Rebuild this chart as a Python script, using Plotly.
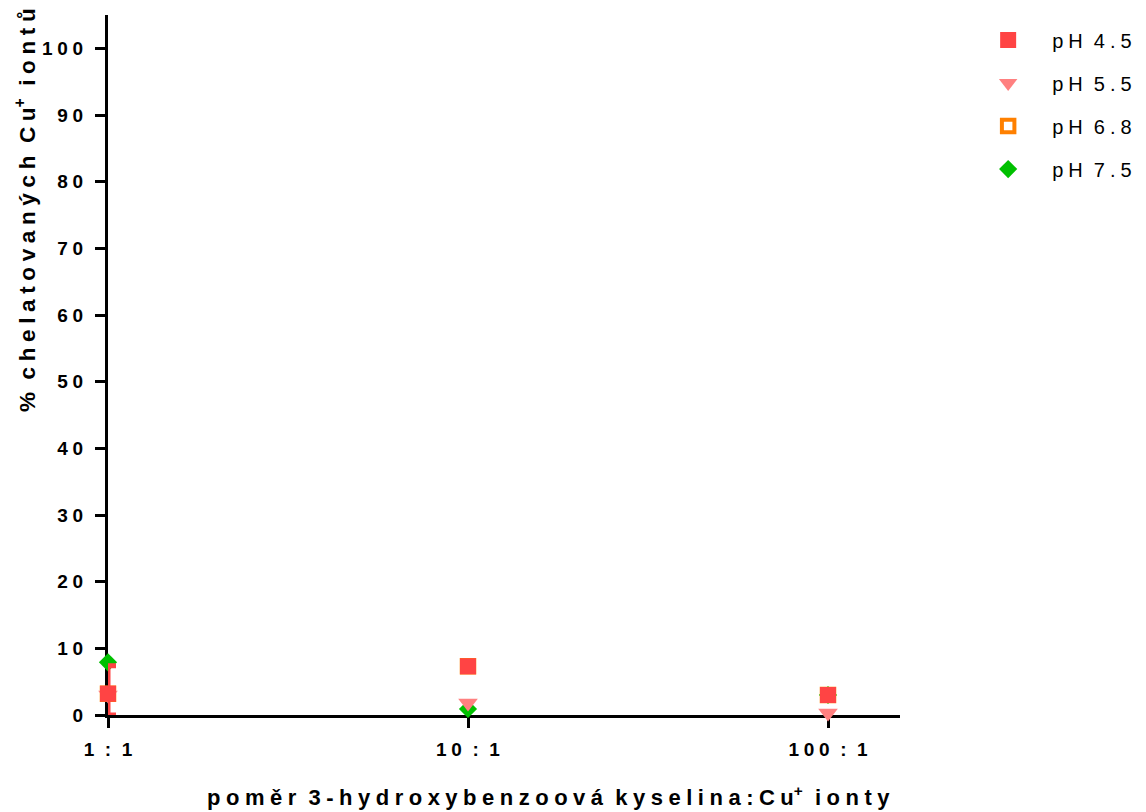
import plotly.graph_objects as go

categories = ["1 : 1", "10 : 1", "100 : 1"]
x_pos = [0, 1, 2]
ph45 = [3.2, 7.3, 3.0]
ph45_err_plus = [4.2, 0, 0]
ph45_err_minus = [3.2, 0, 0]
ph55 = [3.0, 1.8, 0.3]
ph68 = [3.2, 7.3, 3.0]
ph75 = [7.9, 0.9, 3.0]
y_ticks = list(range(0, 101, 10))
series_names = ["pH 4.5", "pH 5.5", "pH 6.8", "pH 7.5"]

LS = "\u2005"          # letter spacing
WS = "  "              # word gap


def sp(s):
    return WS.join(LS.join(w) for w in s.split(" "))


FONT = "Liberation Sans, Arial, sans-serif"

fig = go.Figure()

fig.add_trace(go.Scatter(
    x=x_pos, y=ph75, mode="markers", name=sp(series_names[3]),
    legendgroup="d", legendrank=4, cliponaxis=False,
    marker=dict(symbol="diamond", size=14, color="#00C000", line=dict(width=0)),
))
fig.add_trace(go.Scatter(
    x=x_pos, y=ph68, mode="markers", name=sp(series_names[2]),
    legendgroup="c", legendrank=3, cliponaxis=False,
    marker=dict(symbol="square-open", size=12.5, color="#FF8000", line=dict(width=4, color="#FF8000")),
))
fig.add_trace(go.Scatter(
    x=x_pos, y=ph55, mode="markers", name=sp(series_names[1]),
    legendgroup="b", legendrank=2, cliponaxis=False,
    marker=dict(symbol="triangle-down", size=17, color="#FF8080", line=dict(width=0)),
))
fig.add_trace(go.Scatter(
    x=x_pos, y=ph45, mode="markers", name=sp(series_names[0]),
    legendgroup="a", legendrank=1, cliponaxis=False,
    marker=dict(symbol="square", size=16, color="#FF4444", line=dict(width=0)),
    error_y=dict(type="data", array=ph45_err_plus, arrayminus=ph45_err_minus,
                 symmetric=False, color="#FF4444", thickness=5, width=8),
))

axis_common = dict(
    showline=True, linecolor="black", linewidth=3,
    ticks="outside", tickcolor="black", tickwidth=3, ticklen=10,
    showgrid=False, zeroline=False, layer="below traces",
    tickfont=dict(family=FONT, size=19, color="black", weight="bold"),
)

fig.update_xaxes(
    range=[0, 2.2], tickvals=x_pos, ticktext=[sp(c) for c in categories],
    ticklabelstandoff=5,
    **axis_common,
)
fig.update_yaxes(
    range=[0, 105], tickvals=y_ticks, ticktext=[sp(str(v)) for v in y_ticks],
    ticklabelstandoff=8,
    **axis_common,
)

fig.add_annotation(
    x=0.556, y=-0.116, xref="paper", yref="paper", xanchor="center", yanchor="middle",
    text=sp("poměr") + WS + sp("3-hydroxybenzoová") + WS + sp("kyselina:Cu") + "<sup>+</sup>" + WS + sp("ionty"),
    showarrow=False, font=dict(family=FONT, size=22, color="black", weight="bold"),
)
fig.add_annotation(
    x=-0.104, y=0.721, xref="paper", yref="paper", xanchor="center", yanchor="middle",
    textangle=-90,
    text=sp("%") + WS + sp("chelatovaných") + WS + sp("Cu") + "<sup>+</sup>" + WS + sp("iontů"),
    showarrow=False, font=dict(family=FONT, size=22.5, color="black", weight="bold"),
)

fig.update_layout(
    width=1146, height=812,
    margin=dict(l=108, r=246, t=15, b=97, autoexpand=False),
    plot_bgcolor="white", paper_bgcolor="white",
    showlegend=True,
    legend=dict(
        x=1.081, y=0.992, xanchor="left", yanchor="top",
        traceorder="grouped", tracegroupgap=14,
        font=dict(family=FONT, size=20, color="black"),
        itemwidth=78, bgcolor="rgba(0,0,0,0)",
    ),
)

fig.write_html("out.html")
